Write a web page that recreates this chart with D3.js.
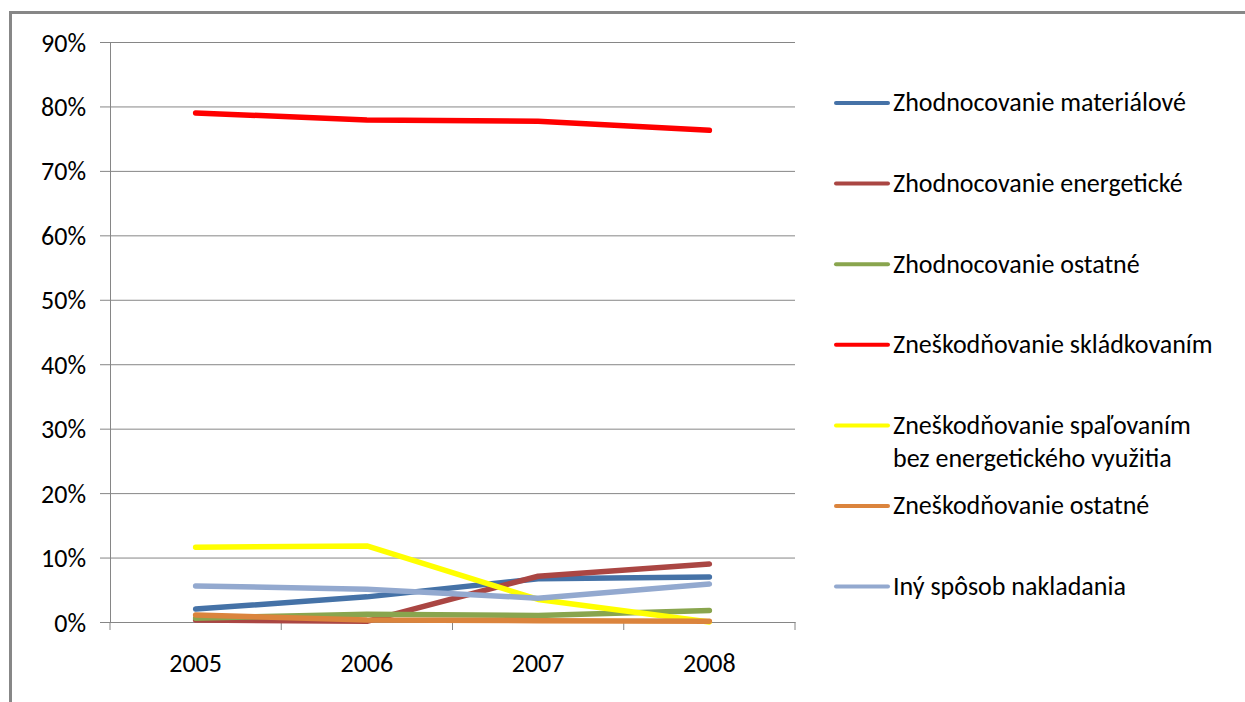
<!DOCTYPE html>
<html>
<head>
<meta charset="utf-8">
<script src="https://cdn.jsdelivr.net/npm/d3@7"></script>
<style>
  html, body { margin: 0; padding: 0; background: #fff; }
  svg { display: block; }
  text { font-family: Carlito, Calibri, Lato, sans-serif; fill: #000; }
</style>
</head>
<body>
<script>
// Years on the category axis
const years = ["2005", "2006", "2007", "2008"];

// Share of each waste-treatment method per year (fraction of total)
const seriesNames = [
  "Zhodnocovanie materiálové",
  "Zhodnocovanie energetické",
  "Zhodnocovanie ostatné",
  "Zneškodňovanie skládkovaním",
  "Zneškodňovanie spaľovaním bez energetického využitia",
  "Zneškodňovanie ostatné",
  "Iný spôsob nakladania"
];
const materialove   = [0.020, 0.039, 0.067, 0.070];
const energeticke   = [0.003, 0.001, 0.071, 0.090];
const zhodOstatne   = [0.006, 0.012, 0.010, 0.018];
const skladkovanim  = [0.790, 0.779, 0.777, 0.763];
const spalovanim    = [0.116, 0.118, 0.035, 0.000];
const znesOstatne   = [0.011, 0.003, 0.002, 0.001];
const inySposob     = [0.056, 0.051, 0.037, 0.059];

// Legend label lines (long names wrap)
const legendLines = [
  ["Zhodnocovanie materiálové"],
  ["Zhodnocovanie energetické"],
  ["Zhodnocovanie ostatné"],
  ["Zneškodňovanie skládkovaním"],
  ["Zneškodňovanie spaľovaním", "bez energetického využitia"],
  ["Zneškodňovanie ostatné"],
  ["Iný spôsob nakladania"]
];

// Y axis ticks
const yTicks = [0, 0.1, 0.2, 0.3, 0.4, 0.5, 0.6, 0.7, 0.8, 0.9];

const colors = ["#4572A7", "#AA4643", "#89A54E", "#FF0000", "#FFFF00", "#DB843D", "#93A9CF"];
const values = [materialove, energeticke, zhodOstatne, skladkovanim, spalovanim, znesOstatne, inySposob];

const W = 1245, H = 702;
const fontSize = 26;
const svg = d3.select("body").append("svg").attr("width", W).attr("height", H);

// Outer chart frame
svg.append("rect")
  .attr("x", 10.5).attr("y", 12.5)
  .attr("width", 1300).attr("height", 800)
  .attr("fill", "none").attr("stroke", "#878787").attr("stroke-width", 3);

const plot = { left: 110, right: 795, top: 42, bottom: 622 };

const x = d3.scaleBand().domain(years).range([plot.left, plot.right]).paddingInner(0).paddingOuter(0);
const y = d3.scaleLinear().domain([0, 0.9]).range([plot.bottom, plot.top]);

const gridColor = "#868686";

// Y axis with horizontal gridlines
const yAxis = svg.append("g")
  .attr("transform", `translate(${plot.left},0)`)
  .call(d3.axisLeft(y).tickValues(yTicks).tickFormat(d3.format(".0%"))
    .tickSizeInner(-(plot.right - plot.left)).tickSizeOuter(0).tickPadding(24));
yAxis.select(".domain").attr("stroke", gridColor);
yAxis.selectAll(".tick line").attr("x1", -10).attr("stroke", gridColor).attr("stroke-width", 1);
yAxis.selectAll(".tick text").attr("font-size", fontSize).attr("dy", "0.35em");

// X axis: labels at category centres, tick marks on category boundaries
const xAxis = svg.append("g")
  .attr("transform", `translate(0,${plot.bottom})`)
  .call(d3.axisBottom(x).tickSize(0).tickPadding(32));
xAxis.select(".domain").attr("stroke", gridColor);
xAxis.selectAll(".tick text").attr("font-size", fontSize).attr("dy", "0.71em");

const boundaries = years.map(d => x(d)).concat([x.range()[1]]);
svg.append("g").selectAll("line").data(boundaries).join("line")
  .attr("x1", d => d).attr("x2", d => d)
  .attr("y1", plot.bottom).attr("y2", plot.bottom + 8)
  .attr("stroke", gridColor).attr("stroke-width", 1);

// Series lines
const line = d3.line()
  .x((d, i) => x(years[i]) + x.bandwidth() / 2)
  .y(d => y(d));

svg.append("g").selectAll("path").data(values).join("path")
  .attr("d", d => line(d))
  .attr("fill", "none")
  .attr("stroke", (d, i) => colors[i])
  .attr("stroke-width", 5.5)
  .attr("stroke-linecap", "round")
  .attr("stroke-linejoin", "round");

// Legend
const legendTop = 103, legendStep = 80.6;
const legend = svg.append("g");
seriesNames.forEach((name, i) => {
  const cy = legendTop + i * legendStep;
  const g = legend.append("g");
  g.append("line")
    .attr("x1", 836).attr("x2", 888)
    .attr("y1", cy).attr("y2", cy)
    .attr("stroke", colors[i]).attr("stroke-width", 4).attr("stroke-linecap", "round");
  legendLines[i].forEach((t, j) => {
    g.append("text")
      .attr("x", 893).attr("y", cy + j * 33)
      .attr("dy", "0.32em")
      .attr("font-size", fontSize)
      .text(t);
  });
});
</script>
</body>
</html>
